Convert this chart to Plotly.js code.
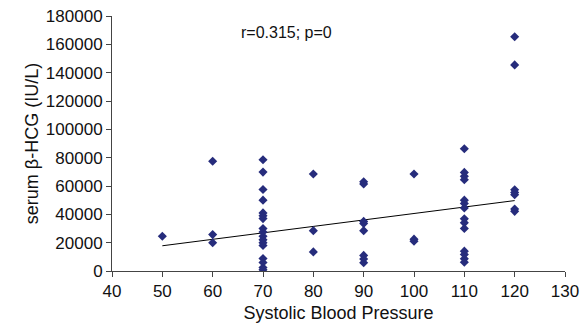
<!DOCTYPE html>
<html><head><meta charset="utf-8">
<script src="https://cdn.plot.ly/plotly-3.0.1.min.js"></script>
<style>html,body{margin:0;padding:0;background:#fff}#c{width:587px;height:325px}</style>
</head><body><div id="c"></div>
<script>
// Systolic blood pressure (x) and serum beta-HCG (y)
const sbp = [50,
  60,60,60,
  70,70,70,70,70,70,70,70,70,70,70,70,70,70,70,70,70,
  80,80,80,
  90,90,90,90,90,90,90,90,
  100,100,100,
  110,110,110,110,110,110,110,110,110,110,110,110,110,110,
  120,120,120,120,120,120,120];
const hcg = [24500,
  77500,25700,19900,
  78500,69800,57500,50000,41000,39000,37000,30000,27500,24500,22000,20000,18000,8800,6000,2500,800,
  68500,28500,13500,
  63000,61500,35000,33500,28500,11000,8500,5800,
  68500,22500,21000,
  86300,69600,66800,64500,50000,47600,44500,36800,34000,30000,14000,11600,8600,6200,
  165400,145500,57400,55500,53900,43800,42100];
// Trend line endpoints
const trendX = [50, 120];
const trendY = [17800, 49700];
const xTicks = [40,50,60,70,80,90,100,110,120,130];
const yTicks = [0,20000,40000,60000,80000,100000,120000,140000,160000,180000];
const statText = 'r=0.315; p=0';

const axisCol = '#444';
const fam = 'Liberation Sans, Arial, sans-serif';
Plotly.newPlot('c', [
  {x: trendX, y: trendY, mode: 'lines', line: {color: '#000', width: 1}, hoverinfo: 'skip'},
  {x: sbp, y: hcg, mode: 'markers', marker: {symbol: 'diamond', size: 7, color: '#262C7C'}}
], {
  width: 587, height: 325,
  margin: {l: 112, r: 22, t: 16, b: 54},
  showlegend: false,
  paper_bgcolor: '#fff', plot_bgcolor: '#fff',
  font: {family: fam, color: '#111', size: 17},
  xaxis: {range: [40, 130], tickvals: xTicks, ticktext: xTicks.map(String), showgrid: false, zeroline: false,
    showline: true, linecolor: axisCol, linewidth: 1, ticks: 'outside', ticklen: 5, tickcolor: axisCol,
    tickfont: {size: 17}, title: {text: 'Systolic Blood Pressure', font: {size: 18}, standoff: 5}},
  yaxis: {range: [0, 180000], tickvals: yTicks, ticktext: yTicks.map(String), showgrid: false, zeroline: false,
    showline: true, linecolor: axisCol, linewidth: 1, ticks: 'outside', ticklen: 5, tickcolor: axisCol,
    tickfont: {size: 17}, title: {text: 'serum β-HCG (IU/L)', font: {size: 18}, standoff: 2}},
  annotations: [{x: 0.28, y: 0.935, xref: 'paper', yref: 'paper', xanchor: 'left', yanchor: 'middle',
    showarrow: false, text: statText, font: {size: 16, color: '#111'}}]
}, {staticPlot: true});
</script></body></html>
